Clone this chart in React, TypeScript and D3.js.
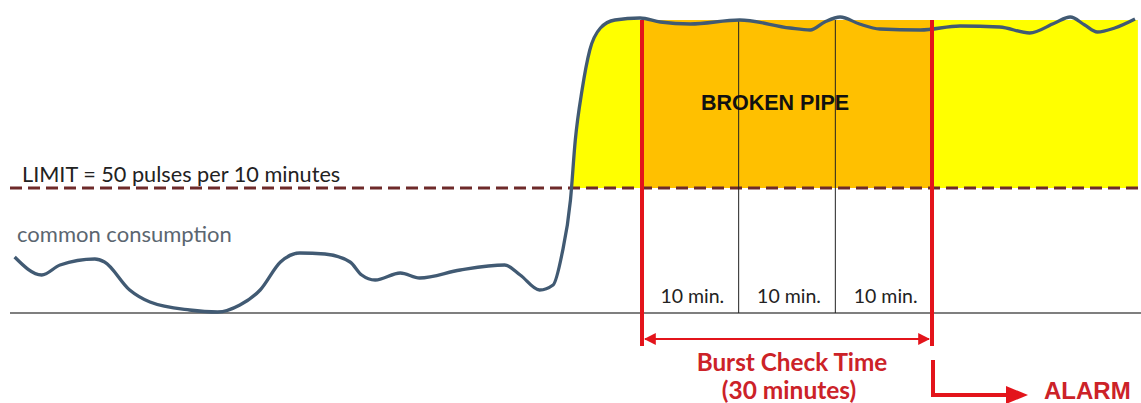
import React from 'react';
import * as d3 from 'd3';

// time in minutes, flow in pulses per 10 minutes
const minutes = [
  1.1, 3.9, 5.8, 9.4, 10.4, 13.0, 15.1, 19.2, 22.1, 24.4, 26.5, 28.6, 30.6, 33.2, 35.8, 37.0, 38.4,
  41.0, 43.0, 47.2, 51.8, 53.4, 55.4, 56.8, 57.7, 58.6, 59.1, 59.8, 60.6, 61.7, 63.2, 65.8, 67.9,
  71.0, 76.1, 81.3, 83.4, 84.9, 86.5, 88.5, 90.6, 94.8, 98.9, 103.0, 106.1, 108.7, 110.3, 111.8,
  113.1, 114.9, 117.0,
];
const pulses = [
  22.4, 15.2, 19.2, 21.6, 20.4, 9.2, 4.4, 1.2, 0.4, 3.2, 9.2, 20.4, 24, 23.6, 20.4, 15.2, 13.2, 16,
  14, 17.2, 19.2, 15.2, 9.2, 11.2, 23.2, 45.2, 69.2, 89.2, 105.2, 114, 117.2, 118, 116.4, 115.6,
  117.2, 114, 113.2, 116.4, 118.4, 115.6, 113.6, 113.2, 114.8, 114.4, 112, 116, 118.4, 115.2, 112.4,
  114, 117.6,
];
const LIMIT = 50;
const PLATEAU = 117.2;
const BURST_START = 66;
const checkSlots = [0, 10, 20, 30];
const slotLabels = ['10 min.', '10 min.', '10 min.'];

const W = 1141;
const H = 403;

export default function App() {
  const x = d3.scaleLinear().domain([0, 117]).range([4, 1135]);
  const y = d3.scaleLinear().domain([0, LIMIT]).range([313, 188]);
  const data = minutes.map((t, i) => ({ t, v: pulses[i] }));

  const line = d3
    .line<{ t: number; v: number }>()
    .x((d) => x(d.t))
    .y((d) => y(d.v))
    .curve(d3.curveMonotoneX);

  // yellow: everything above the limit, flat at the plateau once the burst is running
  const over = data.filter((d) => d.t >= 57.7);
  const yellowArea = d3
    .area<{ t: number; v: number }>()
    .x((d) => x(d.t))
    .y0(y(LIMIT))
    .y1((d) => y(d.t >= 63 ? PLATEAU : Math.max(Math.min(d.v, PLATEAU), LIMIT)))
    .curve(d3.curveMonotoneX);
  const yellowData = [...over, { t: 117.3, v: PLATEAU }];

  const xs = x(BURST_START);
  const xe = x(BURST_START + 30);
  const red = '#e3141b';
  const textRed = '#cc2228';

  return (
    <svg width={W} height={H} style={{ position: 'absolute', left: 0, top: 0 }}>
      <defs>
        <marker id="ah" viewBox="0 0 10 10" refX="9" refY="5" markerWidth="6" markerHeight="6" orient="auto-start-reverse">
          <path d="M0,0L10,5L0,10z" fill={red} />
        </marker>
      </defs>
      <rect width={W} height={H} fill="#fff" />
      <path d={yellowArea(yellowData) || ''} fill="#ffff00" />
      <rect x={xs} y={y(PLATEAU)} width={xe - xs} height={y(LIMIT) - y(PLATEAU)} fill="#ffc000" />

      <line x1={10} x2={W} y1={y(0)} y2={y(0)} stroke="#555" strokeWidth={1.5} />
      <line x1={10} x2={1138} y1={y(LIMIT)} y2={y(LIMIT)} stroke="#6e2a2a" strokeWidth={3} strokeDasharray="12,6" />

      {checkSlots.slice(1, 3).map((m) => (
        <line key={m} x1={x(BURST_START + m)} x2={x(BURST_START + m)} y1={y(PLATEAU)} y2={y(0)} stroke="#222" strokeWidth={1} />
      ))}

      <path d={line(data) || ''} fill="none" stroke="#415a73" strokeWidth={3.3} />

      <line x1={xs} x2={xs} y1={y(PLATEAU)} y2={346} stroke={red} strokeWidth={4} />
      <line x1={xe} x2={xe} y1={y(PLATEAU)} y2={346} stroke={red} strokeWidth={4} />
      <line x1={xs + 3} x2={xe - 3} y1={339} y2={339} stroke={red} strokeWidth={2} markerStart="url(#ah)" markerEnd="url(#ah)" />

      <path d={`M${xe + 1},360V395H1010`} fill="none" stroke={red} strokeWidth={4} />
      <path d="M1006,386L1028,395L1006,404z" fill={red} />

      <g fontFamily="Lato, 'Noto Sans', sans-serif">
        <text x={22} y={182} fontSize={21.7} fill="#222">LIMIT = 50 pulses per 10 minutes</text>
        <text x={17} y={242} fontSize={22} fill="#5b6670">common consumption</text>
        {slotLabels.map((s, i) => (
          <text key={i} x={(x(BURST_START + checkSlots[i]) + x(BURST_START + checkSlots[i + 1])) / 2 + 2} y={303} fontSize={19.5} fill="#222" textAnchor="middle">
            {s}
          </text>
        ))}
        <text x={792} y={371} fontSize={24.3} fontWeight="bold" fill={textRed} textAnchor="middle">Burst Check Time</text>
        <text x={789} y={399} fontSize={24.5} fontWeight="bold" fill={textRed} textAnchor="middle">(30 minutes)</text>
      </g>
      <text x={775} y={110} fontSize={21.5} fontWeight="bold" fill="#111" textAnchor="middle" fontFamily="'Liberation Sans', Arial, sans-serif">BROKEN PIPE</text>
      <text x={1044} y={399} fontSize={24} fontWeight="bold" fill={textRed} fontFamily="'Liberation Sans', Arial, sans-serif">ALARM</text>
    </svg>
  );
}
